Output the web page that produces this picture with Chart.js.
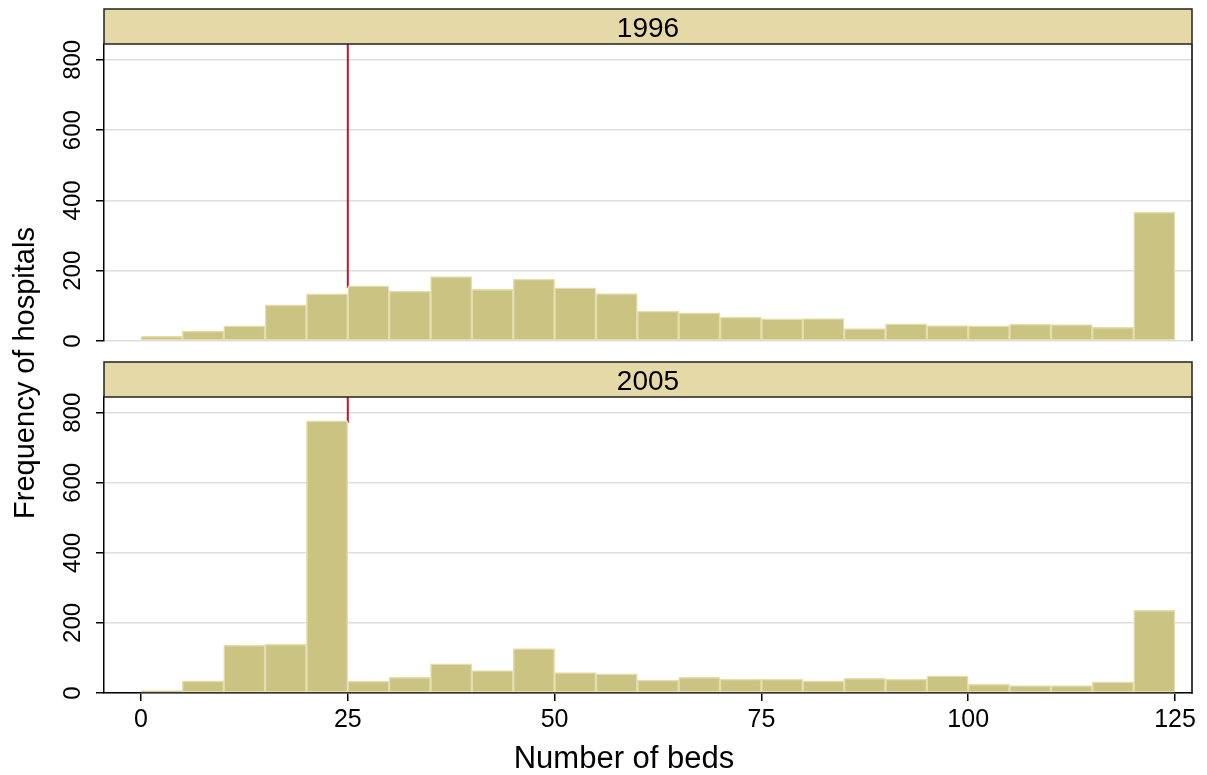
<!DOCTYPE html>
<html>
<head>
<meta charset="utf-8">
<title>Number of beds per hospital, 1996 and 2005</title>
<script src="https://cdn.jsdelivr.net/npm/chart.js@4.4.1/dist/chart.umd.min.js"></script>
<style>
  html, body { margin: 0; padding: 0; background: #ffffff; }
  #wrap { position: relative; width: 1207px; height: 775px; overflow: hidden; }
  #wrap canvas { position: absolute; left: 0; top: 0; }
</style>
</head>
<body>
<div id="wrap">
  <canvas id="panel1996" width="1207" height="775"></canvas>
  <canvas id="panel2005" width="1207" height="775"></canvas>
</div>
<script>
// Histogram bins: lower edge of each 5-bed bin (last bin collects 120+)
const binStarts = [0, 5, 10, 15, 20, 25, 30, 35, 40, 45, 50, 55, 60,
                   65, 70, 75, 80, 85, 90, 95, 100, 105, 110, 115, 120];
const binWidth = 5;

// Number of hospitals in each bin
const counts1996 = [13, 28, 43, 103, 134, 157, 142, 183, 147, 176, 151, 135, 85,
                    80, 68, 63, 64, 35, 49, 44, 43, 48, 47, 39, 367];
const counts2005 = [7, 35, 137, 139, 777, 34, 45, 83, 64, 127, 58, 55, 37,
                    45, 40, 40, 35, 42, 40, 49, 25, 21, 21, 32, 236];

const panelTitles = ['1996', '2005'];
const yTickValues = [0, 200, 400, 600, 800];
const xTickValues = [0, 25, 50, 75, 100, 125];
const cutoffBeds = 25;

const xAxisTitle = 'Number of beds';
const yAxisTitle = 'Frequency of hospitals';

const FONT = '"Liberation Sans", Arial, Helvetica, sans-serif';
const BAR_FILL = '#cbc381';
const BAR_EDGE = '#e4ddae';
const STRIP_FILL = '#e5d9a7';
const GRID = '#dedede';
const CUTOFF = '#c8102e';

function panelPlugin(title, counts, isBottom) {
  return {
    id: 'panelDecor' + title,
    beforeDatasetsDraw(chart) {
      // vertical reference line at the cutoff; it runs down to the taller
      // of the two bars that meet there
      const { ctx, chartArea, scales } = chart;
      const i = binStarts.indexOf(cutoffBeds);
      const stopAt = Math.max(counts[i - 1] || 0, counts[i] || 0);
      const x = scales.x.getPixelForValue(cutoffBeds);
      ctx.save();
      ctx.strokeStyle = CUTOFF;
      ctx.lineWidth = 2;
      ctx.beginPath();
      ctx.moveTo(x, chartArea.top);
      ctx.lineTo(x, scales.y.getPixelForValue(stopAt) + 2);
      ctx.stroke();
      ctx.restore();
    },
    afterDraw(chart) {
      const { ctx, chartArea, scales } = chart;
      ctx.save();

      // right frame edge
      ctx.strokeStyle = '#000';
      ctx.lineWidth = 1.5;
      ctx.beginPath();
      ctx.moveTo(chartArea.right, chartArea.top);
      ctx.lineTo(chartArea.right, chartArea.bottom + (isBottom ? 0.75 : 0));
      ctx.stroke();

      // panel header strip
      const stripH = 35;
      const sx = chartArea.left, sy = chartArea.top - stripH;
      const sw = chartArea.right - chartArea.left;
      ctx.fillStyle = STRIP_FILL;
      ctx.fillRect(sx, sy, sw, stripH);
      ctx.strokeStyle = '#222';
      ctx.lineWidth = 1.5;
      ctx.strokeRect(sx, sy, sw, stripH);
      ctx.fillStyle = '#000';
      ctx.font = '28px ' + FONT;
      ctx.textAlign = 'center';
      ctx.textBaseline = 'alphabetic';
      ctx.fillText(title, sx + sw / 2, sy + stripH / 2 + 10);

      // y tick labels, written vertically
      ctx.font = '24px ' + FONT;
      yTickValues.forEach(v => {
        const y = scales.y.getPixelForValue(v);
        ctx.save();
        ctx.translate(80, y);
        ctx.rotate(-Math.PI / 2);
        ctx.fillText(String(v), 0, 0);
        ctx.restore();
      });

      if (isBottom) {
        // x tick labels
        ctx.font = '25px ' + FONT;
        xTickValues.forEach(v => {
          ctx.fillText(String(v), scales.x.getPixelForValue(v), 727);
        });

        // axis titles
        ctx.font = '31px ' + FONT;
        ctx.fillText(xAxisTitle, (chartArea.left + chartArea.right) / 2 - 24, 768);
        ctx.save();
        ctx.translate(34, 373);
        ctx.rotate(-Math.PI / 2);
        ctx.font = '29px ' + FONT;
        ctx.fillText(yAxisTitle, 0, 0);
        ctx.restore();
      }
      ctx.restore();
    }
  };
}

function makePanel(canvasId, title, counts, padding, isBottom) {
  const points = binStarts.map((s, i) => ({ x: s + binWidth / 2, y: counts[i] }));
  return new Chart(document.getElementById(canvasId), {
    type: 'bar',
    data: {
      datasets: [{
        label: title,
        data: points,
        backgroundColor: BAR_FILL,
        borderColor: BAR_EDGE,
        borderWidth: 1.5,
        borderSkipped: false,
        barPercentage: 1,
        categoryPercentage: 1
      }]
    },
    options: {
      responsive: false,
      animation: false,
      devicePixelRatio: 1,
      layout: { padding },
      plugins: { legend: { display: false }, tooltip: { enabled: false } },
      scales: {
        x: {
          type: 'linear',
          min: -4.47,
          max: 127.05,
          offset: false,
          display: isBottom,
          afterFit(s) { s.height = 0; },
          afterBuildTicks(s) { s.ticks = xTickValues.map(v => ({ value: v })); },
          grid: {
            offset: false,
            drawOnChartArea: false,
            drawTicks: true,
            tickLength: 8,
            color: '#000',
            lineWidth: 1.5
          },
          border: { display: true, color: '#000', width: 1.5 },
          ticks: { display: false }
        },
        y: {
          type: 'linear',
          min: 0,
          max: 845,
          afterFit(s) { s.width = 0; },
          afterBuildTicks(s) { s.ticks = yTickValues.map(v => ({ value: v })); },
          grid: {
            color: GRID,
            lineWidth: 1.5,
            drawTicks: true,
            tickLength: 8,
            tickColor: '#000',
            tickWidth: 1.5
          },
          border: { display: true, color: '#000', width: 1.5 },
          ticks: { display: false }
        }
      }
    },
    plugins: [panelPlugin(title, counts, isBottom)]
  });
}

makePanel('panel1996', panelTitles[0], counts1996,
  { left: 104, top: 44, right: 15, bottom: 434 }, false);
makePanel('panel2005', panelTitles[1], counts2005,
  { left: 104, top: 397, right: 15, bottom: 82 }, true);
</script>
</body>
</html>
